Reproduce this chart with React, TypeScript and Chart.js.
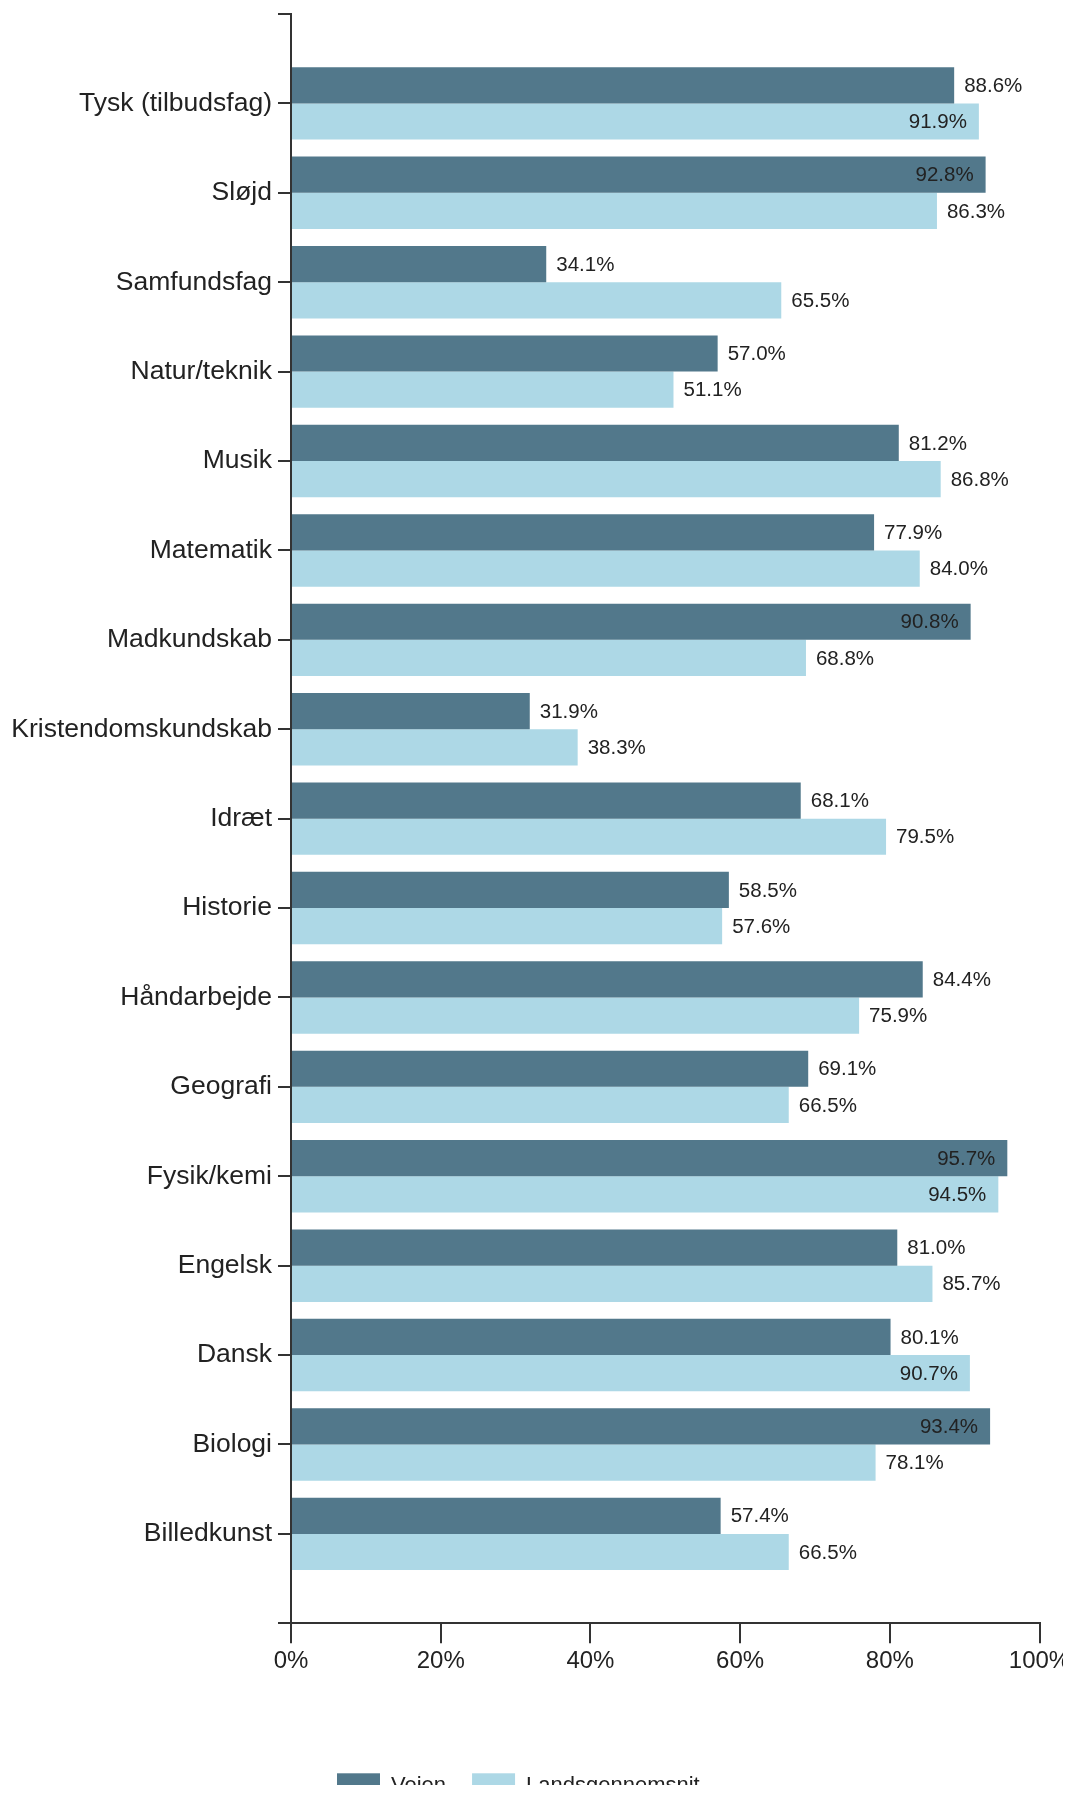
import React, { useEffect, useRef } from "react";
import { Chart, registerables } from "chart.js";

Chart.register(...registerables);

const categories: string[] = [
  "Tysk (tilbudsfag)",
  "Sløjd",
  "Samfundsfag",
  "Natur/teknik",
  "Musik",
  "Matematik",
  "Madkundskab",
  "Kristendomskundskab",
  "Idræt",
  "Historie",
  "Håndarbejde",
  "Geografi",
  "Fysik/kemi",
  "Engelsk",
  "Dansk",
  "Biologi",
  "Billedkunst",
];

const vejen: number[] = [88.6, 92.8, 34.1, 57.0, 81.2, 77.9, 90.8, 31.9, 68.1, 58.5, 84.4, 69.1, 95.7, 81.0, 80.1, 93.4, 57.4];
const landsgennemsnit: number[] = [91.9, 86.3, 65.5, 51.1, 86.8, 84.0, 68.8, 38.3, 79.5, 57.6, 75.9, 66.5, 94.5, 85.7, 90.7, 78.1, 66.5];

const seriesNames: string[] = ["Vejen", "Landsgennemsnit"];
const xTicks: number[] = [0, 20, 40, 60, 80, 100];

const FONT = "'Liberation Sans', Arial, sans-serif";
const TEXT = "#222222";
const AXIS = "#333333";
const COLORS = ["#52788B", "#ADD8E6"];

const valueLabelPlugin = {
  id: "valueLabels",
  afterDatasetsDraw(chart: any) {
    const ctx = chart.ctx;
    const area = chart.chartArea;
    ctx.save();
    ctx.font = `20.5px ${FONT}`;
    ctx.fillStyle = TEXT;
    ctx.textBaseline = "middle";
    chart.data.datasets.forEach((ds: any, di: number) => {
      const meta = chart.getDatasetMeta(di);
      meta.data.forEach((el: any, i: number) => {
        const v = ds.data[i];
        if (v === null || v === undefined) return;
        const txt = v.toFixed(1) + "%";
        const w = ctx.measureText(txt).width;
        if (el.x + 10 + w > area.right - 3) {
          ctx.textAlign = "right";
          ctx.fillText(txt, el.x - 12, el.y + 1);
        } else {
          ctx.textAlign = "left";
          ctx.fillText(txt, el.x + 10, el.y + 1);
        }
      });
    });
    ctx.restore();
  },
};

const customLegendPlugin = {
  id: "customLegend",
  afterDraw(chart: any) {
    const ctx = chart.ctx;
    const area = chart.chartArea;
    ctx.save();
    ctx.font = `22px ${FONT}`;
    ctx.textBaseline = "middle";
    ctx.textAlign = "left";
    let x = area.left + 46;
    const y = area.bottom + 150;
    chart.data.datasets.forEach((ds: any) => {
      ctx.fillStyle = ds.backgroundColor;
      ctx.fillRect(x, y, 43, 22);
      ctx.fillStyle = TEXT;
      const tx = x + 43 + 11;
      ctx.fillText(ds.label, tx, y + 13);
      x = tx + ctx.measureText(ds.label).width + 26;
    });
    ctx.restore();
  },
};

export default function App() {
  const ref = useRef<HTMLCanvasElement | null>(null);

  useEffect(() => {
    if (!ref.current) return;
    const labels = ["", ...categories, ""];
    const pad = (arr: number[]) => [null, ...arr, null];
    const chart = new Chart(ref.current, {
      type: "bar",
      data: {
        labels,
        datasets: [
          { label: seriesNames[0], data: pad(vejen) as any, backgroundColor: COLORS[0], borderWidth: 0 },
          { label: seriesNames[1], data: pad(landsgennemsnit) as any, backgroundColor: COLORS[1], borderWidth: 0 },
        ],
      },
      options: {
        indexAxis: "y",
        responsive: false,
        animation: false,
        devicePixelRatio: 1,
        layout: { padding: { top: 14, left: 0, right: 31.5, bottom: 109.7 } },
        datasets: { bar: { categoryPercentage: 0.81, barPercentage: 1 } },
        plugins: {
          legend: { display: false },
          tooltip: { enabled: false },
        },
        scales: {
          y: {
            type: "category",
            offset: false,
            grid: {
              display: true,
              offset: false,
              drawOnChartArea: false,
              drawTicks: true,
              tickLength: 13,
              color: AXIS,
              lineWidth: 2,
            },
            border: { display: true, color: AXIS, width: 2 },
            ticks: {
              autoSkip: false,
              padding: 6,
              color: TEXT,
              font: { family: FONT, size: 26.5 },
            },
            afterFit(scale: any) {
              scale.width = 291;
              scale.paddingTop = 0;
              scale.paddingBottom = 0;
            },
          },
          x: {
            type: "linear",
            min: 0,
            max: 100,
            afterBuildTicks(scale: any) {
              scale.ticks = xTicks.map((v) => ({ value: v }));
            },
            grid: {
              display: true,
              drawOnChartArea: false,
              drawTicks: true,
              tickLength: 20,
              color: AXIS,
              lineWidth: 2,
            },
            border: { display: true, color: AXIS, width: 2 },
            ticks: {
              padding: 4,
              color: TEXT,
              font: { family: FONT, size: 24 },
              maxRotation: 0,
              callback: (v: any) => v + "%",
            },
            afterFit(scale: any) {
              scale.height = 60;
              scale.paddingLeft = 0;
              scale.paddingRight = 0;
            },
          },
        },
      },
      plugins: [valueLabelPlugin, customLegendPlugin],
    });
    return () => chart.destroy();
  }, []);

  return (
    <div style={{ margin: -8, width: 1071, height: 1793, overflow: "hidden" }}>
      <canvas ref={ref} width={1071} height={1793} style={{ display: "block" }} />
    </div>
  );
}
